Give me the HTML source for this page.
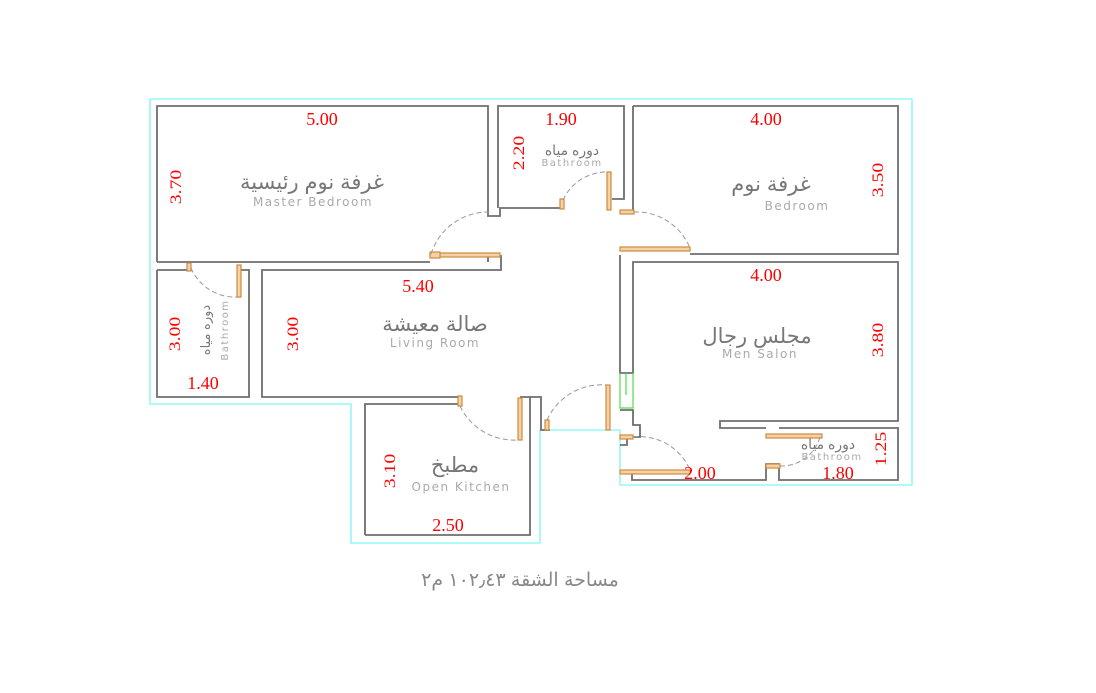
<!DOCTYPE html>
<html><head><meta charset="utf-8"><style>
html,body{margin:0;padding:0;background:#fff;width:1096px;height:693px;overflow:hidden}
svg{display:block}
.w{fill:none;stroke:#6e6e6e;stroke-width:1.8}
.c{fill:none;stroke:#7ff5f5;stroke-width:1.3}
.g{fill:none;stroke:#4fe04f;stroke-width:1.2}
.d{fill:#f3d2a8;stroke:#d08a3e;stroke-width:1.2}
.a{fill:none;stroke:#999;stroke-width:1;stroke-dasharray:5,3}
.r{fill:#f00;font-family:"Liberation Serif",serif;font-size:18px}
.rv{fill:#f00;font-family:"Liberation Serif",serif;font-size:18px}
.ar{fill:#777;font-family:"Liberation Sans","Noto Sans CJK SC","DejaVu Sans",sans-serif;font-size:21px}
.en{fill:#aaa;font-family:"DejaVu Sans","Liberation Sans",sans-serif;font-size:12px;letter-spacing:1.5px}
</style></head><body>
<svg width="1096" height="693" viewBox="0 0 1096 693">
<polyline class="c" points="150,99 912,99 912,485 620,485 620,430 540,430 540,543 351,543 351,404 150,404 150,99"/>
<polyline class="w" points="157,262 157,106 488,106 488,216 500,216 500,208 560,208"/>
<polyline class="w" points="157,262 430,262"/>
<polyline class="w" points="488,262 488,256 501,256 501,270 262,270 262,397 460,397"/>
<polyline class="w" points="157,270 190,270"/>
<polyline class="w" points="239,270 249,270 249,397 157,397 157,270"/>
<polyline class="w" points="498,208 498,106 624,106 624,199 612,199"/>
<polyline class="w" points="633,106 633,213 620,213"/>
<polyline class="w" points="633,106 898,106 898,254 690,254"/>
<polyline class="w" points="620,255 620,373 633,373 633,262 898,262 898,421 720,421 720,428 766,428"/>
<polyline class="g" points="620,373 620,408 633,408 633,373"/>
<polyline class="g" points="626,373 626,395"/>
<polyline class="w" points="779,428 898,428 898,480 779,480 779,464 766,464 766,480 632,480 632,470"/>
<polyline class="w" points="620,410 633,410 633,425 640,425 640,437 627,437 627,445 620,445"/>
<polyline class="w" points="365,535 365,404 460,404"/>
<polyline class="w" points="520,397 530,397 530,535 365,535"/>
<polyline class="w" points="530,397 541,397 541,430 550,430"/>
<rect class="d" x="430" y="253" width="70" height="4"/><rect class="d" x="430" y="252" width="10" height="6"/>
<path class="a" d="M431,254 A60,60 0 0 1 490,212"/>
<rect class="d" x="187" y="263" width="4" height="8"/><rect class="d" x="237" y="265" width="4" height="32"/>
<path class="a" d="M191,268 A48,48 0 0 0 238,297"/>
<rect class="d" x="560" y="199" width="4" height="10"/><rect class="d" x="607" y="172" width="4" height="38"/>
<path class="a" d="M563,200 A48,48 0 0 1 608,172"/>
<rect class="d" x="620" y="247" width="70" height="4"/><rect class="d" x="620" y="210" width="14" height="4"/>
<path class="a" d="M634,212 A58,58 0 0 1 690,248"/>
<rect class="d" x="458" y="396" width="4" height="10"/><rect class="d" x="518" y="398" width="4" height="42"/>
<path class="a" d="M460,406 A60,60 0 0 0 518,440"/>
<rect class="d" x="545" y="420" width="4" height="10"/><rect class="d" x="606" y="385" width="4" height="45"/>
<path class="a" d="M547,420 A60,60 0 0 1 607,385"/>
<rect class="d" x="620" y="470" width="70" height="4"/><rect class="d" x="620" y="435" width="13" height="4"/>
<path class="a" d="M633,437 A55,55 0 0 1 690,470"/>
<rect class="d" x="766" y="434" width="56" height="4"/><rect class="d" x="766" y="464" width="14" height="4"/>
<path class="a" d="M780,466 A40,40 0 0 0 820,437"/>
<text class="r" x="322" y="125" text-anchor="middle">5.00</text>
<text class="r" x="561" y="125" text-anchor="middle">1.90</text>
<text class="r" x="766" y="125" text-anchor="middle">4.00</text>
<text class="r" x="766" y="281" text-anchor="middle">4.00</text>
<text class="r" x="418" y="292" text-anchor="middle">5.40</text>
<text class="r" x="203" y="389" text-anchor="middle">1.40</text>
<text class="r" x="448" y="531" text-anchor="middle">2.50</text>
<text class="r" x="700" y="479" text-anchor="middle">2.00</text>
<text class="r" x="838" y="479" text-anchor="middle">1.80</text>
<text class="rv" transform="translate(181,187) rotate(-90) scale(1.1,0.85)" text-anchor="middle">3.70</text>
<text class="rv" transform="translate(524,153) rotate(-90) scale(1.1,0.85)" text-anchor="middle">2.20</text>
<text class="rv" transform="translate(883,180) rotate(-90) scale(1.1,0.85)" text-anchor="middle">3.50</text>
<text class="rv" transform="translate(180,334) rotate(-90) scale(1.1,0.85)" text-anchor="middle">3.00</text>
<text class="rv" transform="translate(298,334) rotate(-90) scale(1.1,0.85)" text-anchor="middle">3.00</text>
<text class="rv" transform="translate(883,340) rotate(-90) scale(1.1,0.85)" text-anchor="middle">3.80</text>
<text class="rv" transform="translate(395,471) rotate(-90) scale(1.1,0.85)" text-anchor="middle">3.10</text>
<text class="rv" transform="translate(886,449) rotate(-90) scale(1.1,0.85)" text-anchor="middle">1.25</text>
<text class="ar" x="312" y="189" text-anchor="middle">غرفة نوم رئيسية</text>
<text class="en" x="313" y="206" text-anchor="middle">Master Bedroom</text>
<text class="ar" x="572" y="155" text-anchor="middle" style="font-size:14px">دوره مياه</text>
<text class="en" x="572" y="166" text-anchor="middle" style="font-size:10px">Bathroom</text>
<text class="ar" x="771" y="191" text-anchor="middle">غرفة نوم</text>
<text class="en" x="797" y="210" text-anchor="middle">Bedroom</text>
<text class="ar" x="435" y="331" text-anchor="middle">صالة معيشة</text>
<text class="en" x="435" y="347" text-anchor="middle">Living Room</text>
<text class="ar" x="757" y="343" text-anchor="middle">مجلس رجال</text>
<text class="en" x="760" y="358" text-anchor="middle">Men Salon</text>
<text class="ar" x="455" y="472" text-anchor="middle">مطبخ</text>
<text class="en" x="461" y="491" text-anchor="middle">Open Kitchen</text>
<text class="ar" x="828" y="449" text-anchor="middle" style="font-size:14px">دوره مياه</text>
<text class="en" x="832" y="460" text-anchor="middle" style="font-size:10px">Bathroom</text>
<text class="ar" transform="translate(210,330) rotate(-90)" text-anchor="middle" style="font-size:13px">دوره مياه</text>
<text class="en" transform="translate(228,330) rotate(-90)" text-anchor="middle" style="font-size:10px">Bathroom</text>
<text class="ar" x="520" y="586" text-anchor="middle" style="font-size:19px;fill:#888">مساحة الشقة ١٠٢٫٤٣ م٢</text>
</svg>
</body></html>
